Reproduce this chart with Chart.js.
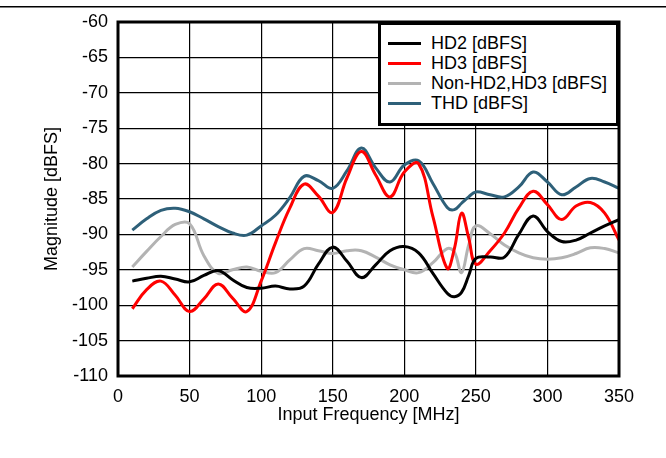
<!DOCTYPE html>
<html><head><meta charset="utf-8">
<script src="https://cdn.jsdelivr.net/npm/chart.js@4"></script>
<style>
html,body{margin:0;padding:0;background:#fff;}
#wrap{position:relative;width:666px;height:458px;}
#legend{position:absolute;left:378px;top:22px;width:241px;height:104px;box-sizing:border-box;border:3px solid #000;background:#fff;font:18px "Liberation Sans",Arial,sans-serif;color:#000;}
.item{position:absolute;left:0;height:20px;width:230px;}
.sw{position:absolute;left:7px;width:33px;height:3px;top:9px;}
.lb{position:absolute;left:50px;top:0;line-height:20px;white-space:nowrap;}
</style></head>
<body>
<div id="wrap"><canvas id="c" width="666" height="458"></canvas><div id="legend"></div></div>
<script>
const freq = [10,20,30,40,50,60,70,80,90,100,110,120,130,140,150,160,170,180,190,200,210,220,230,235,240,245,250,260,270,280,290,300,310,320,330,340,350];
const hd2 = [-96.6,-96.2,-95.9,-96.3,-96.7,-95.8,-95.1,-96.4,-97.5,-97.6,-97.3,-97.7,-97.3,-94.2,-91.8,-93.8,-96.1,-94.3,-92.3,-91.7,-92.6,-95.5,-98.3,-98.8,-98.2,-95.8,-93.4,-93.2,-93.2,-90.0,-87.4,-89.6,-91.0,-90.8,-89.8,-88.8,-87.9];
const hd3 = [-100.5,-97.8,-96.6,-98.6,-100.9,-99.1,-97.0,-99.0,-100.9,-96.6,-91.2,-86.3,-82.9,-84.6,-86.9,-82.0,-78.3,-81.6,-84.7,-81.2,-80.0,-87.5,-94.8,-92.0,-87.0,-90.5,-94.2,-92.3,-89.8,-86.3,-83.9,-85.8,-87.9,-86.0,-85.5,-87.0,-90.8];
const nonHd = [-94.6,-92.4,-90.3,-88.6,-88.5,-93.0,-95.5,-95.0,-94.6,-95.2,-95.4,-93.6,-92.0,-92.3,-92.7,-92.3,-92.3,-93.2,-94.3,-95.0,-95.4,-94.0,-92.0,-92.5,-95.4,-91.5,-88.8,-89.9,-91.5,-92.6,-93.3,-93.5,-93.3,-92.7,-91.9,-92.0,-92.6];
const thd = [-89.4,-87.8,-86.6,-86.3,-86.8,-87.8,-88.9,-89.8,-90.1,-88.8,-87.3,-84.8,-81.8,-82.4,-83.5,-81.0,-77.8,-80.6,-82.6,-80.2,-79.6,-82.8,-86.2,-86.5,-85.6,-84.7,-84.0,-84.4,-84.7,-83.3,-81.2,-82.6,-84.4,-83.3,-82.1,-82.6,-83.5];
const seriesLabels = ['HD2 [dBFS]','HD3 [dBFS]','Non-HD2,HD3 [dBFS]','THD [dBFS]'];
const seriesColors = ['#000000','#ff0000','#b3b3b3','#2e6079'];
const xTicks = [0,50,100,150,200,250,300,350];
const yTicks = [-110,-105,-100,-95,-90,-85,-80,-75,-70,-65,-60];

const FONT = '"Liberation Sans", Arial, sans-serif';
const seriesData = [hd2, hd3, nonHd, thd];
const datasets = seriesData.map((arr, i) => ({
  label: seriesLabels[i],
  data: freq.map((f, j) => ({x: f, y: arr[j]})),
  borderColor: seriesColors[i],
  backgroundColor: seriesColors[i],
  borderWidth: 3,
  pointRadius: 0,
  tension: 0.4,
  fill: false
}));

const framePlugin = {
  id: 'frame',
  afterDraw(chart) {
    const {ctx, chartArea: a} = chart;
    ctx.save();
    ctx.strokeStyle = '#000';
    ctx.lineWidth = 3;
    ctx.strokeRect(a.left, a.top, a.right - a.left, a.bottom - a.top);
    ctx.fillStyle = '#000';
    ctx.fillRect(0, 6, chart.width, 1.5);
    ctx.restore();
  }
};

const chart = new Chart(document.getElementById('c'), {
  type: 'line',
  data: {datasets},
  options: {
    responsive: false,
    animation: false,
    layout: {padding: {left: 0, right: 47, top: 22, bottom: 0}},
    plugins: {legend: {display: false}, tooltip: {enabled: false}},
    scales: {
      x: {
        type: 'linear', min: 0, max: 350,
        afterBuildTicks: s => { s.ticks = xTicks.map(v => ({value: v})); },
        afterFit: s => { s.height = 82; },
        grid: {color: '#000', lineWidth: 1.2, drawTicks: false},
        border: {display: false},
        ticks: {padding: 10, color: '#000', font: {family: FONT, size: 18}},
        title: {display: true, text: 'Input Frequency [MHz]', color: '#000', font: {family: FONT, size: 18}, padding: {top: 0, bottom: 32}}
      },
      y: {
        type: 'linear', min: -110, max: -60,
        afterBuildTicks: s => { s.ticks = yTicks.map(v => ({value: v})); },
        afterFit: s => { s.width = 118; },
        grid: {color: '#000', lineWidth: 1.2, drawTicks: false},
        border: {display: false},
        ticks: {padding: 10, color: '#000', font: {family: FONT, size: 18}},
        title: {display: true, text: 'Magnitude [dBFS]', color: '#000', font: {family: FONT, size: 18}, padding: {top: 41, bottom: 0}}
      }
    }
  },
  plugins: [framePlugin]
});

const leg = document.getElementById('legend');
chart.data.datasets.forEach((ds, i) => {
  const it = document.createElement('div');
  it.className = 'item';
  it.style.top = (8 + 20 * i) + 'px';
  const sw = document.createElement('div');
  sw.className = 'sw';
  sw.style.background = ds.borderColor;
  const lb = document.createElement('div');
  lb.className = 'lb';
  lb.textContent = ds.label;
  it.appendChild(sw); it.appendChild(lb);
  leg.appendChild(it);
});
</script>
</body></html>
